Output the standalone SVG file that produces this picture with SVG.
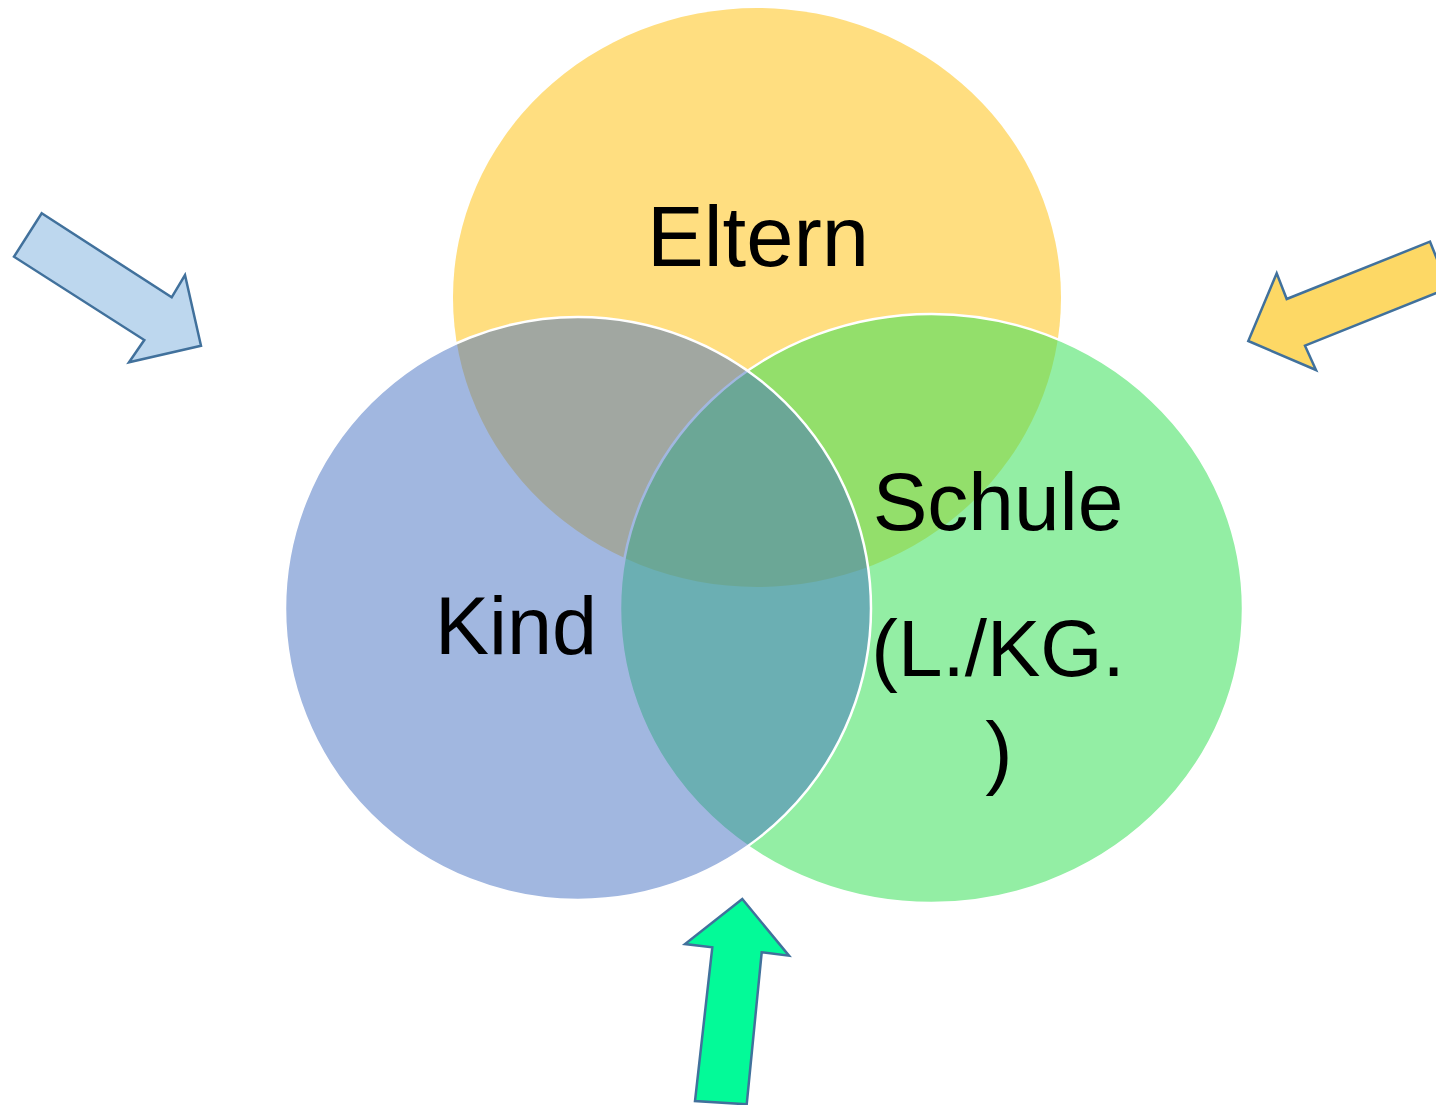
<svg xmlns="http://www.w3.org/2000/svg" width="1436" height="1105" viewBox="0 0 1436 1105">
<style>
.lbl{font-family:"Liberation Sans",Arial,sans-serif;fill:#000;text-anchor:middle}
.arrow{stroke:#41719C;stroke-width:2.5;stroke-linejoin:miter}
</style>
<rect width="1436" height="1105" fill="#fff"/>
<g id="eltern">
<ellipse cx="757" cy="297.5" rx="304" ry="289.5" fill="#FFDE80"/>
</g>
<g id="schule">
<ellipse cx="931.5" cy="608.5" rx="311.5" ry="294.5" fill="#3BE05A" fill-opacity="0.55" stroke="#fff" stroke-width="2.5"/>
</g>
<g id="kind">
<ellipse cx="578" cy="608.5" rx="293" ry="291.5" fill="#436FC1" fill-opacity="0.5" stroke="#fff" stroke-width="2.5"/>
</g>
<g id="labels">
<text class="lbl" x="758" y="266" font-size="85">Eltern</text>
<text class="lbl" x="516" y="654" font-size="81">Kind</text>
<text class="lbl" x="998" y="530" font-size="82">Schule</text>
<text class="lbl" x="998" y="676" font-size="80">(L./KG.</text>
<text class="lbl" x="999" y="779" font-size="82">)</text>
</g>
<g id="connectors">
<polygon id="arrow-blue" class="arrow" fill="#BDD7EE" points="41.7,213.3 171.7,297.3 185,275 201,345.7 129,362.3 144.3,340 14,256.7"/>
<polygon id="arrow-yellow" class="arrow" fill="#FDD865" points="1430,241.7 1286.7,299 1276.7,273.3 1248.3,341 1316,370 1305,345.7 1448.6,288"/>
<polygon id="arrow-green" class="arrow" fill="#03FA98" points="742.3,899 789,955.7 761.7,952.3 746.7,1104.3 695,1101 712.3,947.3 685,944"/>
</g>
</svg>
